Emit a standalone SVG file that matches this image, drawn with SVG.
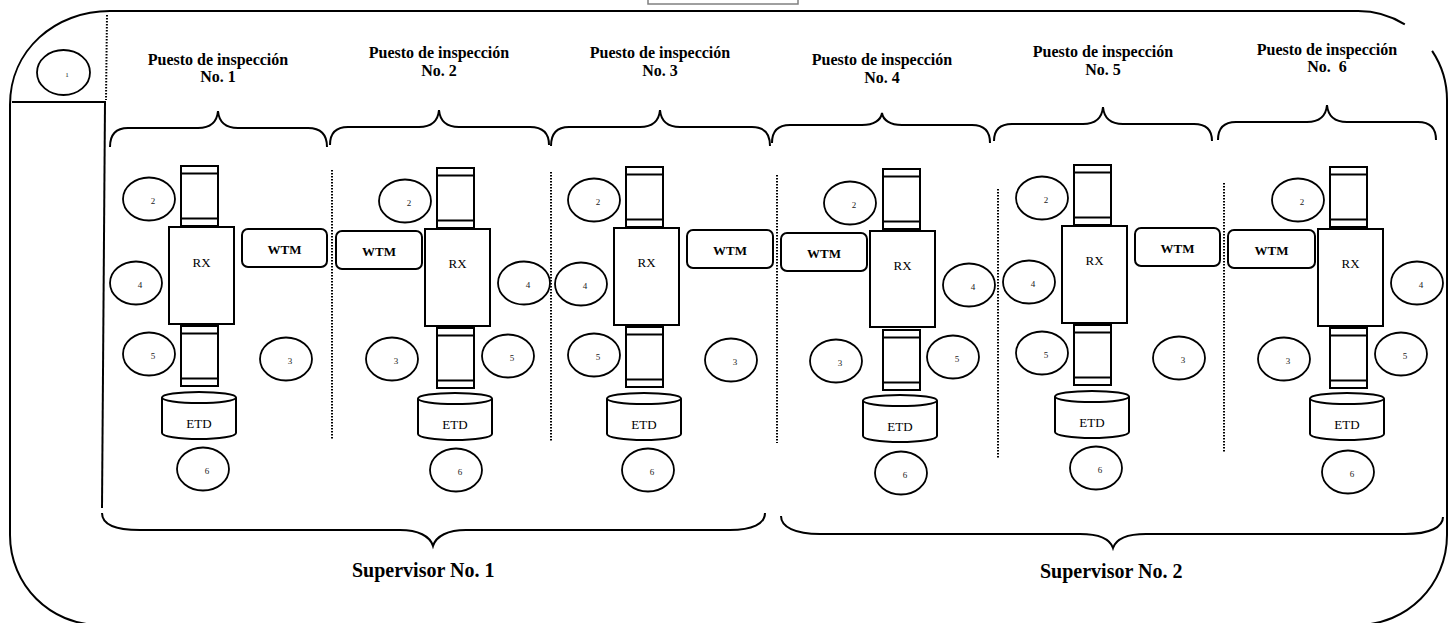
<svg xmlns="http://www.w3.org/2000/svg" xmlns:xlink="http://www.w3.org/1999/xlink" width="1453" height="623" viewBox="0 0 1453 623">
<style>
.ln{fill:none;stroke:#000;stroke-width:2}
.bx{fill:#fff;stroke:#000;stroke-width:2}
.el{fill:#fff;stroke:#000;stroke-width:1.8}
.dot{fill:none;stroke:#000;stroke-width:2;stroke-dasharray:1.6 1.4}
text{font-family:"Liberation Serif","Times New Roman",serif;fill:#000}
.title{font-size:16px;font-weight:bold;text-anchor:middle;white-space:pre}
.sup{font-size:20px;font-weight:bold}
.rx{font-size:13px;text-anchor:middle}
.wtm{font-size:13px;font-weight:bold;text-anchor:middle}
.etd{font-size:13px;text-anchor:middle}
.num{font-size:9px;fill:#222;text-anchor:middle}
</style>
<defs>
<g id="roll"><rect class="bx" x="0" y="0" width="37" height="60"/><line class="ln" x1="0" y1="7.5" x2="37" y2="7.5"/><line class="ln" x1="0" y1="52.5" x2="37" y2="52.5"/></g>
<g id="etd"><path class="bx" d="M0,5.5 L0,41 A37,6 0 0 0 74,41 L74,5.5"/><ellipse class="bx" cx="37" cy="5.5" rx="37" ry="5.5"/></g>
</defs>
<rect width="1453" height="623" fill="#fff"/>

<g id="frame">
<path class="ln" d="M1358,11 L110,11 C55,11 10,50 10,105 L10,535 C10,585 50,625 100,625 L1357,625 C1407,625 1447,585 1447,535 L1447,100 C1447,81.9 1441.5,65 1432.1,50.9"/>
<path class="ln" d="M1358,11 C1375.2,11 1391.2,15.9 1404.8,24.4"/>
<rect x="648" y="-6" width="150" height="10" fill="#fff" stroke="#808080" stroke-width="1.5"/>
<line class="ln" x1="12" y1="102" x2="106" y2="102"/>
<line class="ln" x1="105" y1="102" x2="102" y2="508"/>
<line class="dot" x1="107" y1="15" x2="106" y2="100"/>
</g>

<g id="node1">
<ellipse class="el" cx="63.5" cy="72.5" rx="26.5" ry="22.5"/>
<text class="num" x="67" y="77" style="font-size:7px">1</text>
</g>

<g id="connectors">
<path class="ln" d="M110,147 C110,134 116,128 128,128 L198,128 C210,128 217,122 218,111 C219,122 226,128 238,128 L308,128 C320,128 327,134 327,147"/>
<path class="ln" d="M330,145 C330,133 336,127 348,127 L419,127 C431,127 438,121 439,110 C440,121 447,127 459,127 L530,127 C542,127 549,133 549,145"/>
<path class="ln" d="M551,146 C551,133 557,127 569,127 L640,127 C652,127 659,121 660,110 C661,121 668,127 680,127 L752,127 C764,127 770,133 770,146"/>
<path class="ln" d="M772,143 C772,131 778,125 790,125 L862,125 C874,125 881,120 882,113 C883,120 890,125 902,125 L972,125 C984,125 990,131 990,143"/>
<path class="ln" d="M994,141 C994,130 1000,124 1012,124 L1083,124 C1095,124 1102,118 1103,107 C1104,118 1111,124 1123,124 L1194,124 C1206,124 1212,130 1212,141"/>
<path class="ln" d="M1218,140 C1218,128 1224,122 1236,122 L1307,122 C1319,122 1326,116 1327,105 C1328,116 1335,122 1347,122 L1418,122 C1430,122 1436,128 1436,140"/>
<path class="ln" d="M102,513 C102,524 115,530 140,530 L400,530 C418,530 430,536 433,546 C436,536 448,530 466,530 L730,530 C752,530 765,524 765,513"/>
<path class="ln" d="M781,516 C781,527 795,534 820,534 L1080,534 C1098,534 1110,539 1113,548 C1116,539 1128,534 1146,534 L1405,534 C1430,534 1443,527 1443,517"/>
<line class="dot" x1="332" y1="170" x2="332" y2="440"/>
<line class="dot" x1="551" y1="172" x2="551" y2="442"/>
<line class="dot" x1="777" y1="175" x2="777" y2="443"/>
<line class="dot" x1="998" y1="189" x2="998" y2="458"/>
<line class="dot" x1="1224" y1="183" x2="1224" y2="453"/>
</g>

<g id="station1">
<text class="title" x="218" y="65">Puesto de inspección</text>
<text class="title" x="218" y="82">No. 1</text>
<use xlink:href="#roll" x="181" y="166"/>
<rect class="bx" x="169" y="227" width="65" height="97"/>
<text class="rx" x="201.5" y="267">RX</text>
<rect class="bx" x="242" y="229" width="85" height="38" rx="6"/>
<text class="wtm" x="284.5" y="254">WTM</text>
<use xlink:href="#roll" x="181" y="326"/>
<use xlink:href="#etd" x="162" y="392"/>
<text class="etd" x="199" y="428">ETD</text>
<ellipse class="el" cx="149" cy="199" rx="26" ry="21.5"/><text class="num" x="153" y="204">2</text>
<ellipse class="el" cx="136" cy="283" rx="26" ry="21.5"/><text class="num" x="140" y="288">4</text>
<ellipse class="el" cx="149" cy="354" rx="26" ry="21.5"/><text class="num" x="153" y="359">5</text>
<ellipse class="el" cx="286" cy="359" rx="26" ry="21.5"/><text class="num" x="290" y="364">3</text>
<ellipse class="el" cx="203" cy="469" rx="26" ry="21.5"/><text class="num" x="207" y="474">6</text>
</g>

<g id="station2">
<text class="title" x="439" y="58">Puesto de inspección</text>
<text class="title" x="439" y="76">No. 2</text>
<use xlink:href="#roll" x="437" y="168"/>
<rect class="bx" x="425" y="229" width="65" height="97"/>
<text class="rx" x="457.5" y="268">RX</text>
<rect class="bx" x="336" y="231" width="86" height="38" rx="6"/>
<text class="wtm" x="379" y="256">WTM</text>
<use xlink:href="#roll" x="437" y="328"/>
<use xlink:href="#etd" x="418" y="393"/>
<text class="etd" x="455" y="429">ETD</text>
<ellipse class="el" cx="405" cy="201" rx="26" ry="21.5"/><text class="num" x="409" y="206">2</text>
<ellipse class="el" cx="524" cy="283" rx="26" ry="21.5"/><text class="num" x="528" y="288">4</text>
<ellipse class="el" cx="392" cy="359" rx="26" ry="21.5"/><text class="num" x="396" y="364">3</text>
<ellipse class="el" cx="508" cy="356" rx="26" ry="21.5"/><text class="num" x="512" y="361">5</text>
<ellipse class="el" cx="456" cy="470" rx="26" ry="21.5"/><text class="num" x="460" y="475">6</text>
</g>

<g id="station3">
<text class="title" x="660" y="58">Puesto de inspección</text>
<text class="title" x="660" y="76">No. 3</text>
<use xlink:href="#roll" x="626" y="167"/>
<rect class="bx" x="614" y="228" width="65" height="97"/>
<text class="rx" x="646.5" y="267">RX</text>
<rect class="bx" x="687" y="230" width="86" height="38" rx="6"/>
<text class="wtm" x="730" y="255">WTM</text>
<use xlink:href="#roll" x="626" y="327"/>
<use xlink:href="#etd" x="607" y="393"/>
<text class="etd" x="644" y="429">ETD</text>
<ellipse class="el" cx="594" cy="200" rx="26" ry="21.5"/><text class="num" x="598" y="205">2</text>
<ellipse class="el" cx="581" cy="284" rx="26" ry="21.5"/><text class="num" x="585" y="289">4</text>
<ellipse class="el" cx="594" cy="355" rx="26" ry="21.5"/><text class="num" x="598" y="360">5</text>
<ellipse class="el" cx="731" cy="360" rx="26" ry="21.5"/><text class="num" x="735" y="365">3</text>
<ellipse class="el" cx="648" cy="470" rx="26" ry="21.5"/><text class="num" x="652" y="475">6</text>
</g>

<g id="station4">
<text class="title" x="882" y="65">Puesto de inspección</text>
<text class="title" x="882" y="83">No. 4</text>
<use xlink:href="#roll" x="883" y="169"/>
<rect class="bx" x="870" y="231" width="65" height="96"/>
<text class="rx" x="902.5" y="270">RX</text>
<rect class="bx" x="781" y="233" width="86" height="38" rx="6"/>
<text class="wtm" x="824" y="258">WTM</text>
<use xlink:href="#roll" x="883" y="330"/>
<use xlink:href="#etd" x="863" y="395"/>
<text class="etd" x="900" y="431">ETD</text>
<ellipse class="el" cx="850" cy="203" rx="26" ry="21.5"/><text class="num" x="854" y="208">2</text>
<ellipse class="el" cx="969" cy="285" rx="26" ry="21.5"/><text class="num" x="973" y="290">4</text>
<ellipse class="el" cx="836" cy="361" rx="26" ry="21.5"/><text class="num" x="840" y="366">3</text>
<ellipse class="el" cx="953" cy="357" rx="26" ry="21.5"/><text class="num" x="957" y="362">5</text>
<ellipse class="el" cx="901" cy="473" rx="26" ry="21.5"/><text class="num" x="905" y="478">6</text>
</g>

<g id="station5">
<text class="title" x="1103" y="57">Puesto de inspección</text>
<text class="title" x="1103" y="75">No. 5</text>
<use xlink:href="#roll" x="1074" y="165"/>
<rect class="bx" x="1062" y="226" width="65" height="97"/>
<text class="rx" x="1094.5" y="265">RX</text>
<rect class="bx" x="1135" y="228" width="85" height="38" rx="6"/>
<text class="wtm" x="1177.5" y="253">WTM</text>
<use xlink:href="#roll" x="1074" y="325"/>
<use xlink:href="#etd" x="1055" y="391"/>
<text class="etd" x="1092" y="427">ETD</text>
<ellipse class="el" cx="1042" cy="198" rx="26" ry="21.5"/><text class="num" x="1046" y="203">2</text>
<ellipse class="el" cx="1029" cy="282" rx="26" ry="21.5"/><text class="num" x="1033" y="287">4</text>
<ellipse class="el" cx="1042" cy="353" rx="26" ry="21.5"/><text class="num" x="1046" y="358">5</text>
<ellipse class="el" cx="1179" cy="358" rx="26" ry="21.5"/><text class="num" x="1183" y="363">3</text>
<ellipse class="el" cx="1096" cy="468" rx="26" ry="21.5"/><text class="num" x="1100" y="473">6</text>
</g>

<g id="station6">
<text class="title" x="1327" y="55">Puesto de inspección</text>
<text class="title" x="1327" y="72">No.  6</text>
<use xlink:href="#roll" x="1330" y="167"/>
<rect class="bx" x="1318" y="229" width="65" height="97"/>
<text class="rx" x="1350.5" y="268">RX</text>
<rect class="bx" x="1228" y="230" width="87" height="38" rx="6"/>
<text class="wtm" x="1271.5" y="255">WTM</text>
<use xlink:href="#roll" x="1330" y="328"/>
<use xlink:href="#etd" x="1310" y="393"/>
<text class="etd" x="1347" y="429">ETD</text>
<ellipse class="el" cx="1298" cy="200" rx="26" ry="21.5"/><text class="num" x="1302" y="205">2</text>
<ellipse class="el" cx="1417" cy="283" rx="26" ry="21.5"/><text class="num" x="1421" y="288">4</text>
<ellipse class="el" cx="1284" cy="359" rx="26" ry="21.5"/><text class="num" x="1288" y="364">3</text>
<ellipse class="el" cx="1401" cy="354" rx="26" ry="21.5"/><text class="num" x="1405" y="359">5</text>
<ellipse class="el" cx="1348" cy="472" rx="26" ry="21.5"/><text class="num" x="1352" y="477">6</text>
</g>

<g id="supervisor1"><text class="sup" x="352" y="577">Supervisor No. 1</text></g>
<g id="supervisor2"><text class="sup" x="1040" y="578">Supervisor No. 2</text></g>
</svg>
